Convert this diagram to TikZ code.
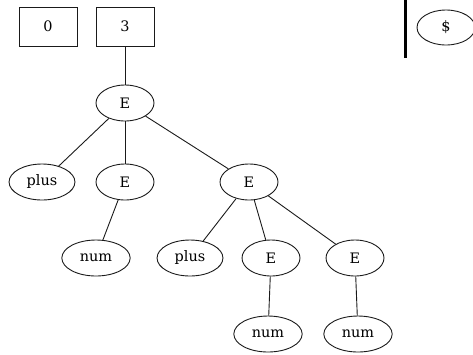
\documentclass[tikz,border=0pt]{standalone}
\usepackage{fontspec}
\usepackage{xcolor}
\usetikzlibrary{shapes.geometric}
\setmainfont{DejaVu Serif}
\definecolor{lineColor}{HTML}{1A1A1A}
\definecolor{barColor}{HTML}{000000}
\definecolor{textColor}{HTML}{000000}
\tikzset{
  treeNode/.style={ellipse, draw=lineColor, line width=0.9bp, text=textColor,
    inner xsep=8bp, inner ysep=1bp, minimum width=58bp, minimum height=36bp,
    font=\fontsize{14.5}{16}\selectfont},
  stackNode/.style={rectangle, draw=lineColor, line width=0.9bp, text=textColor,
    minimum width=58bp, minimum height=39bp, inner sep=0pt,
    font=\fontsize{14.5}{16}\selectfont},
  treeEdge/.style={draw=lineColor, line width=0.9bp}
}

\begin{document}
\begin{tikzpicture}[x=1bp,y=-1bp]
\useasboundingbox (0, 0) rectangle (473, 354);

% stack layer
\begin{scope}
\node[stackNode] (stackA) at (48, 26.5) {0};
\node[stackNode] (stackB) at (125, 26.5) {3};
\end{scope}

% input layer
\begin{scope}
\coordinate (barTop) at (405.5, 0);
\coordinate (barBottom) at (405.5, 58);
\draw[color=barColor, line width=3bp] (barTop) -- (barBottom);
\node[treeNode, minimum width=58bp, minimum height=35bp] (inputEnd) at (446, 27.5) {\$};
\end{scope}

% tree layer
\begin{scope}
\node[treeNode] (rootE) at (125, 103) {E};
\node[treeNode] (plusA) at (42, 182) {plus};
\node[treeNode] (leftE) at (125, 182) {E};
\node[treeNode] (rightE) at (249, 182) {E};
\node[treeNode] (numA) at (96, 258) {num};
\node[treeNode] (plusB) at (190, 258) {plus};
\node[treeNode] (innerE) at (271, 258) {E};
\node[treeNode] (outerE) at (355, 258) {E};
\node[treeNode] (numB) at (268, 334) {num};
\node[treeNode] (numC) at (358, 334) {num};
\end{scope}

% edge layer
\begin{scope}
\draw[treeEdge] (stackB) -- (rootE);
\draw[treeEdge] (rootE) -- (plusA);
\draw[treeEdge] (rootE) -- (leftE);
\draw[treeEdge] (rootE) -- (rightE);
\draw[treeEdge] (leftE) -- (numA);
\draw[treeEdge] (rightE) -- (plusB);
\draw[treeEdge] (rightE) -- (innerE);
\draw[treeEdge] (rightE) -- (outerE);
\draw[treeEdge] (innerE) -- (numB);
\draw[treeEdge] (outerE) -- (numC);
\end{scope}

\end{tikzpicture}
\end{document}
